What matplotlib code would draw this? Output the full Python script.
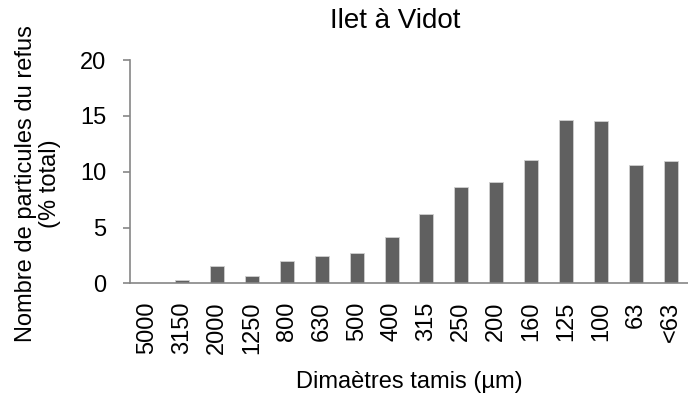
import matplotlib
matplotlib.use("Agg")
from matplotlib import pyplot as plt
import numpy as np

plt.rcParams['font.family'] = ['Liberation Sans', 'DejaVu Sans']

sizes = ['5000', '3150', '2000', '1250', '800', '630', '500', '400',
         '315', '250', '200', '160', '125', '100', '63', '<63']
percent = [0.0, 0.32, 1.52, 0.63, 2.0, 2.47, 2.71, 4.13,
           6.18, 8.62, 9.07, 11.04, 14.68, 14.53, 10.65, 10.95]

fig = plt.figure(figsize=(6.88, 3.96), dpi=100)
ax = fig.add_axes([0.189, 0.2845, 0.811, 0.5635])

x = np.arange(len(sizes))
ax.bar(x, percent, width=0.4, color='#606060', edgecolor='#d0d0d0', linewidth=0.6)

ax.set_xlim(-0.5, len(sizes) - 0.5)
ax.set_ylim(0, 20)
ax.set_yticks([0, 5, 10, 15, 20])
ax.set_xticks(x)
ax.set_xticklabels(sizes, rotation=90)

for s in ['top', 'right']:
    ax.spines[s].set_visible(False)
for s in ['left', 'bottom']:
    ax.spines[s].set_color('#868686')
    ax.spines[s].set_linewidth(1.2)

fs = 17
ax.tick_params(axis='y', length=5, width=1.2, color='#868686', labelsize=fs, pad=12)
ax.tick_params(axis='x', length=0, labelsize=fs, pad=13)

ax.set_title('Ilet à Vidot', fontsize=20, pad=23, x=0.475)
ax.set_xlabel('Dimaètres tamis (µm)', fontsize=fs, labelpad=12)
ax.set_ylabel('Nombre de particules du refus\n(% total)', fontsize=fs, labelpad=14,
              linespacing=1.1)
ax.yaxis.label.set_y(0.445)

fig.savefig('out.png', dpi=100)
